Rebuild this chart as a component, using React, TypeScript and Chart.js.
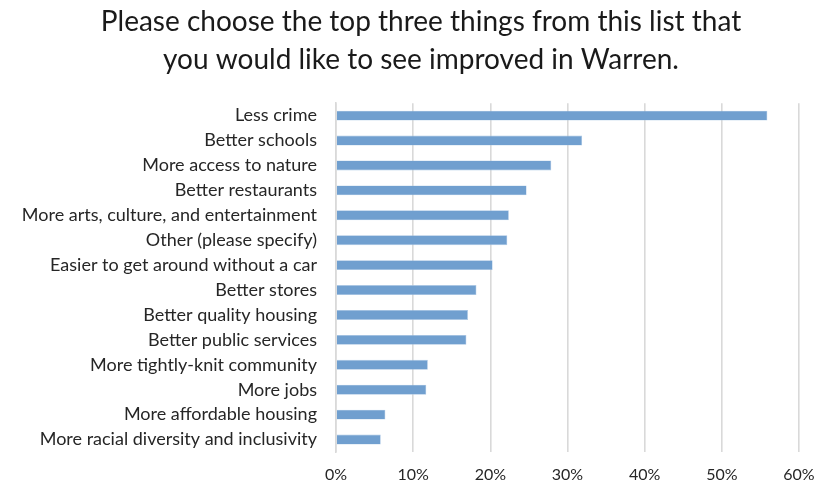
import React, { useEffect, useRef } from "react";
import { Chart, registerables } from "chart.js";

Chart.register(...registerables);

const categories: string[] = [
  "Less crime",
  "Better schools",
  "More access to nature",
  "Better restaurants",
  "More arts, culture, and entertainment",
  "Other (please specify)",
  "Easier to get around without a car",
  "Better stores",
  "Better quality housing",
  "Better public services",
  "More tightly-knit community",
  "More jobs",
  "More affordable housing",
  "More racial diversity and inclusivity",
];

const shares: number[] = [55.9, 31.9, 27.9, 24.7, 22.4, 22.2, 20.3, 18.2, 17.1, 16.9, 11.9, 11.7, 6.4, 5.8];

const tickValues: number[] = [0, 10, 20, 30, 40, 50, 60];

const titleLines: string[] = [
  "Please choose the top three things from this list that",
  "you would like to see improved in Warren.",
];

export default function App() {
  const ref = useRef<HTMLCanvasElement | null>(null);

  useEffect(() => {
    document.body.style.margin = "0";
    const canvas = ref.current;
    if (!canvas) return;
    const chart = new Chart(canvas, {
      type: "bar",
      data: {
        labels: categories,
        datasets: [
          {
            data: shares,
            backgroundColor: "#709fcf",
            borderColor: "#a9c5e3",
            borderWidth: 0.6,
            barPercentage: 0.8,
            categoryPercentage: 0.5,
          },
        ],
      },
      options: {
        indexAxis: "y",
        animation: false,
        responsive: false,
        maintainAspectRatio: false,
        layout: { padding: 0 },
        plugins: {
          legend: { display: false },
          tooltip: { enabled: false },
          title: {
            display: true,
            text: titleLines,
            color: "#1a1a1a",
            font: { family: "Lato", size: 28, weight: "normal", lineHeight: 1.36 },
            padding: { top: 3, bottom: 24 },
          },
        },
        scales: {
          x: {
            min: 0,
            max: 60,
            afterBuildTicks: (scale: any) => {
              scale.ticks = tickValues.map((v) => ({ value: v }));
            },
            afterFit: (scale: any) => {
              scale.paddingRight = 43;
              scale.paddingLeft = 0;
              scale.height = 35;
            },
            grid: { color: "#d9d9d9", lineWidth: 1.6, drawTicks: false },
            border: { display: false },
            ticks: {
              padding: 13,
              color: "#262626",
              font: { family: "Lato", size: 16 },
              callback: (v: any) => v + "%",
            },
          },
          y: {
            afterFit: (scale: any) => {
              scale.width = 336;
            },
            grid: { display: false, drawTicks: false },
            border: { display: true, color: "#d9d9d9", width: 1.6 },
            ticks: {
              padding: 19,
              color: "#262626",
              autoSkip: false,
              font: { family: "Lato", size: 18 },
            },
          },
        },
      },
    });
    return () => chart.destroy();
  }, []);

  return (
    <div style={{ position: "fixed", left: 0, top: 0, width: 814, height: 487, overflow: "hidden", background: "#fff" }}>
      <canvas ref={ref} width={842} height={487} style={{ display: "block" }} />
    </div>
  );
}
